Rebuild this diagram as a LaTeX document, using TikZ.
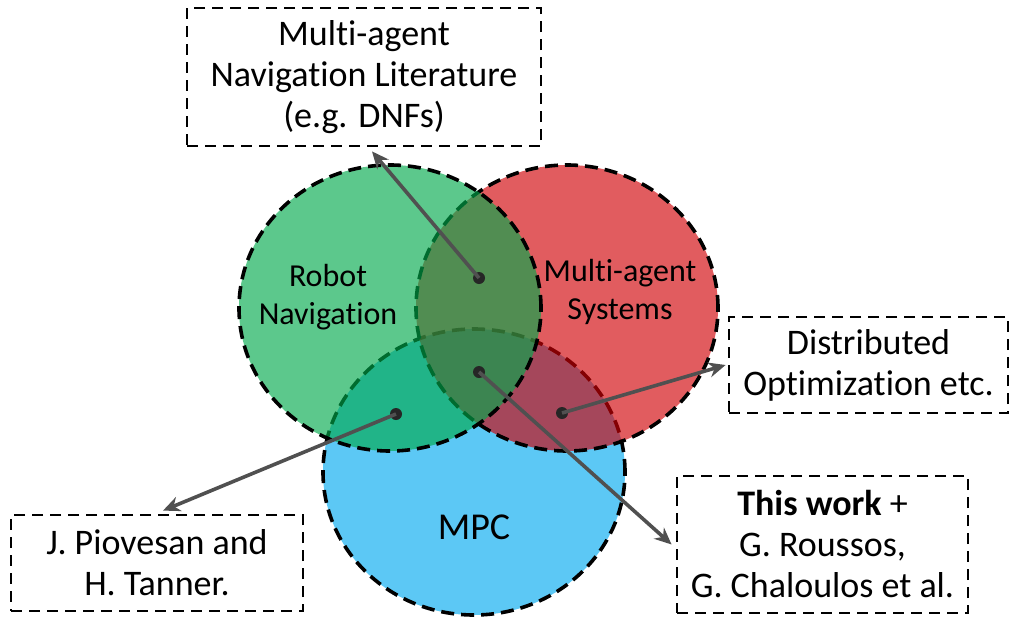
\documentclass[tikz,border=0pt]{standalone}
\usepackage{fontspec}
\setmainfont{Carlito}[Ligatures=NoCommon]
\usepackage{tikz}
\usetikzlibrary{calc}
\usetikzlibrary{arrows.meta}
\usetikzlibrary{shapes.geometric}
\usetikzlibrary{positioning}
\definecolor{navgreen}{RGB}{0,169,75}
\definecolor{masred}{RGB}{208,0,5}
\definecolor{mpcblue}{RGB}{0,169,239}
\definecolor{linkgray}{RGB}{80,80,80}
\tikzset{venn/.style={ellipse,draw=black,line width=3.6pt,dash pattern=on 13pt off 7pt,fill opacity=0.64,draw opacity=1,minimum width=302pt,minimum height=286pt,inner sep=0pt}}
\tikzset{refbox/.style={rectangle,draw=black,line width=2.8pt,dash pattern=on 11pt off 7pt,align=center,inner sep=0pt,font=\fontsize{36}{41}\selectfont}}
\tikzset{vlabel/.style={align=center,font=\fontsize{32}{38}\selectfont}}
\tikzset{dot/.style={circle,fill=black!85,inner sep=0pt,minimum size=12pt}}
\tikzset{link/.style={draw=linkgray,line width=3.6pt,-{Stealth[length=17pt,width=15pt]}}}

\begin{document}
\begin{tikzpicture}[x=1pt,y=-1pt]
\useasboundingbox (0,0) rectangle (1012,624);
% circles, bottom to top
\node[venn, fill=mpcblue] (mpc) at (474,472) {};
\node[venn, fill=masred] (mas) at (567,308) {};
\node[venn, fill=navgreen] (nav) at (390,308) {};

\node[vlabel] (navL) at (328,297) {Robot\\Navigation};
\node[vlabel] (masL) at (620,292) {Multi-agent\\Systems};
\node[vlabel, font=\fontsize{38}{44}\selectfont] (mpcL) at (474,527) {MPC};

% reference boxes
\node[refbox, minimum width=354pt, minimum height=138pt] (lit) at (364,77) {Multi-agent\\Navigation Literature\\(e.g. DNFs)};
\node[refbox, minimum width=292pt, minimum height=96pt] (pio) at (157,563) {J. Piovesan and\\H. Tanner.};
\node[refbox, minimum width=279pt, minimum height=96pt] (dist) at (868.5,365) {Distributed\\Optimization etc.};
\node[refbox, minimum width=291pt, minimum height=137pt] (work) at (822.5,544.5) {\textbf{This work} +\\G. Roussos,\\G. Chaloulos et al.};

% overlap points
\node[dot] (dNM) at (479,278) {};
\node[dot] (dAll) at (479,372) {};
\node[dot] (dNP) at (396,414) {};
\node[dot] (dMP) at (562,413) {};

 \draw[link] (dNM.center) -- ([xshift=8pt,yshift=-4pt]lit.south);
 \draw[link] (dNP.center) -- ([xshift=6pt,yshift=3pt]pio.north);
 \draw[link] (dMP.center) -- ([xshift=-2pt]dist.west);
 \draw[link] (dAll.center) -- ([xshift=-4pt]work.west);

\end{tikzpicture}
\end{document}
